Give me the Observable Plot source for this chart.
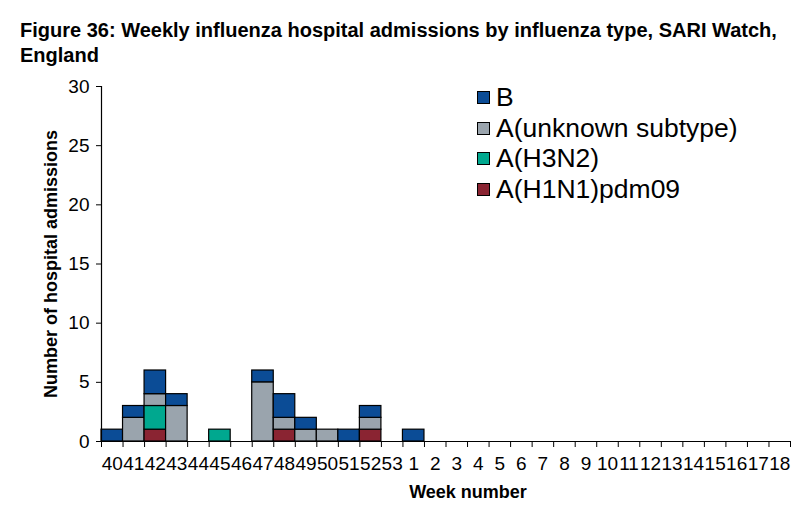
<!DOCTYPE html>
<html>
<head>
<meta charset="utf-8">
<script src="https://cdn.jsdelivr.net/npm/d3@7"></script>
<script src="https://cdn.jsdelivr.net/npm/@observablehq/plot@0.6"></script>
<style>
  html, body { margin: 0; padding: 0; background: #fff; }
  #wrap { position: relative; width: 792px; height: 514px; font-family: "Liberation Sans", Arial, Helvetica, sans-serif; }
  #title { position: absolute; left: 20px; top: 18px; font-weight: bold; font-size: 20px; line-height: 25px; color: #000; white-space: nowrap; }
  #chart { position: absolute; left: 0; top: 70px; }
  #legend { position: absolute; left: 477px; top: 82px; font-size: 26.5px; line-height: 30.7px; color: #000; }
  .li { display: flex; align-items: center; white-space: nowrap; }
  .sw { width: 13px; height: 13px; border: 1px solid #000; margin-right: 6px; box-sizing: border-box; }
</style>
</head>
<body>
<div id="wrap">
  <div id="title">Figure 36: Weekly influenza hospital admissions by influenza type, SARI Watch,<br>England</div>
  <div id="chart"></div>
  <div id="legend"></div>
</div>
<script>
const weeks = ["40","41","42","43","44","45","46","47","48","49","50","51","52","53",
               "1","2","3","4","5","6","7","8","9","10","11","12","13","14","15","16","17","18"];
const h1n1    = [0,0,1,0,0,0,0,0,1,0,0,0,1,0,0,0,0,0,0,0,0,0,0,0,0,0,0,0,0,0,0,0];
const h3n2    = [0,0,2,0,0,1,0,0,0,0,0,0,0,0,0,0,0,0,0,0,0,0,0,0,0,0,0,0,0,0,0,0];
const unknown = [0,2,1,3,0,0,0,5,1,1,1,0,1,0,0,0,0,0,0,0,0,0,0,0,0,0,0,0,0,0,0,0];
const typeB   = [1,1,2,1,0,0,0,1,2,1,0,1,1,0,1,0,0,0,0,0,0,0,0,0,0,0,0,0,0,0,0,0];
const seriesNames = ["A(H1N1)pdm09", "A(H3N2)", "A(unknown subtype)", "B"];
const seriesValues = [h1n1, h3n2, unknown, typeB];
const seriesColors = ["#8A2432", "#00A88F", "#9AA4AD", "#0B4C96"];
const yTicks = [0, 5, 10, 15, 20, 25, 30];

// stack segments bottom-to-top
const segs = [];
weeks.forEach((w, i) => {
  let base = 0;
  seriesValues.forEach((vals, s) => {
    const v = vals[i];
    if (v > 0) segs.push({i, series: seriesNames[s], y1: base, y2: base + v});
    base += v;
  });
});

const font = "Liberation Sans, Arial, Helvetica, sans-serif";
const chart = Plot.plot({
  width: 792,
  height: 444,
  marginLeft: 101,
  marginRight: 2,
  marginTop: 16,
  marginBottom: 73,
  style: {fontFamily: font, fontSize: "19px", color: "#000", background: "#fff", overflow: "visible"},
  x: {type: "linear", domain: [0, weeks.length], axis: null},
  y: {domain: [0, 30], axis: null},
  color: {domain: seriesNames, range: seriesColors},
  marks: [
    Plot.rect(segs, {x1: d => d.i, x2: d => d.i + 1, y1: "y1", y2: "y2", fill: "series", stroke: "#000", strokeWidth: 1.2}),
    Plot.axisY({ticks: yTicks, tickSize: 5, tickPadding: 7, label: null, fontSize: 19, stroke: "#000"}),
    Plot.axisX({ticks: d3.range(weeks.length + 1), tickSize: 6, tickFormat: () => "", label: null, stroke: "#000"}),
    Plot.axisX({ticks: d3.range(weeks.length).map(i => i + 0.5), tickSize: 0, tickPadding: 15,
                tickFormat: v => weeks[Math.floor(v)], label: null, fontSize: 19}),
    Plot.ruleY([0], {stroke: "#000", strokeWidth: 1.2}),
    Plot.ruleX([0], {stroke: "#000", strokeWidth: 1.2}),
    Plot.text(["Week number"], {frameAnchor: "bottom", dy: 56, dx: 22, fontWeight: "bold", fontSize: 18}),
    Plot.text(["Number of hospital admissions"], {frameAnchor: "left", rotate: -90, dx: -50, textAnchor: "middle", fontWeight: "bold", fontSize: 18})
  ]
});
document.getElementById("chart").appendChild(chart);

// legend (top to bottom: B first)
const legend = document.getElementById("legend");
for (let s = seriesNames.length - 1; s >= 0; s--) {
  const row = document.createElement("div");
  row.className = "li";
  const sw = document.createElement("div");
  sw.className = "sw";
  sw.style.background = seriesColors[s];
  const t = document.createElement("span");
  t.textContent = seriesNames[s];
  row.appendChild(sw); row.appendChild(t);
  legend.appendChild(row);
}
</script>
</body>
</html>
